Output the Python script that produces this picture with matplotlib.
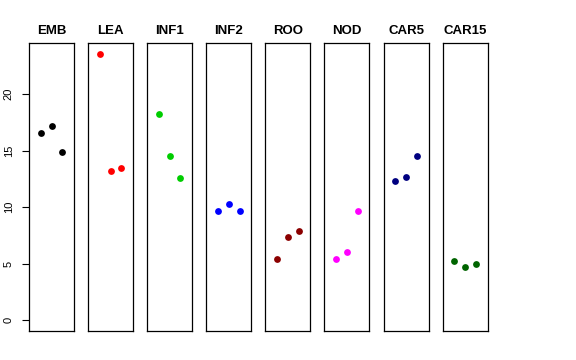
import matplotlib
matplotlib.use("Agg")
import matplotlib.pyplot as plt

plt.rcParams['font.family'] = ['Liberation Sans', 'DejaVu Sans']

# 각 조직(tissue)별 3개 반복 측정값
groups = ["EMB", "LEA", "INF1", "INF2", "ROO", "NOD", "CAR5", "CAR15"]
emb = [16.56, 17.21, 14.92]
lea = [23.57, 13.21, 13.50]
inf1 = [18.22, 14.51, 12.57]
inf2 = [9.65, 10.27, 9.65]
roo = [5.47, 7.39, 7.94]
nod = [5.47, 6.03, 9.65]
car5 = [12.33, 12.68, 14.51]
car15 = [5.27, 4.68, 4.98]
values = [emb, lea, inf1, inf2, roo, nod, car5, car15]
colors = ["black", "red", "#00CD00", "blue", "#8B0000", "magenta", "#000080", "#006400"]
reps = [1, 2, 3]
yticks = [0, 5, 10, 15, 20]

fig = plt.figure(figsize=(5.76, 3.6), dpi=100)

left, width, step = 29 / 576, 45 / 576, 59.1 / 576
bottom, top = 1 - 331 / 360, 1 - 43.3 / 360

for i, (name, vals, col) in enumerate(zip(groups, values, colors)):
    ax = fig.add_axes([left + i * step, bottom, width, top - bottom])
    ax.scatter(reps, vals, color=col, s=24, zorder=3, linewidths=0)
    ax.set_xlim(-0.1, 4.1)
    ax.set_ylim(-0.94, 24.5)
    ax.set_xticks([])
    ax.set_title(name, fontsize=9.5, fontweight='bold', pad=7)
    for sp in ax.spines.values():
        sp.set_linewidth(0.9)
    if i == 0:
        ax.set_yticks(yticks)
        ax.set_yticklabels([str(t) for t in yticks], rotation=90, va='center', fontsize=8)
        ax.tick_params(axis='y', length=5, width=0.8, pad=6)
    else:
        ax.set_yticks([])

fig.savefig("out.png", dpi=100)
